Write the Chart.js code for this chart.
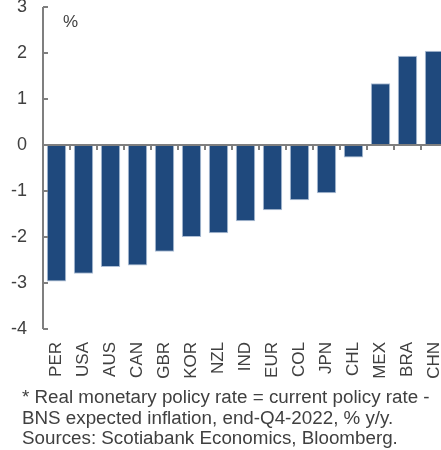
<!DOCTYPE html>
<html>
<head>
<meta charset="utf-8">
<script src="https://cdn.jsdelivr.net/npm/chart.js@4"></script>
<style>
  body { margin: 0; background: #fff; overflow: hidden; width: 441px; height: 450px; }
  #wrap { position: absolute; left: 0; top: 0; width: 448px; height: 390px; }
  #note {
    position: absolute; left: 22px; top: 387px; width: 440px;
    font-family: "Liberation Sans", Arial, sans-serif; font-size: 18.8px;
    line-height: 20.5px; color: #404040; white-space: nowrap;
  }
</style>
</head>
<body>
<div id="wrap"><canvas id="chart" width="448" height="390"></canvas></div>
<div id="note">* Real monetary policy rate = current policy rate -<br>BNS expected inflation, end-Q4-2022, % y/y.<br>Sources: Scotiabank Economics, Bloomberg.</div>
<script>
const countries = ["PER", "USA", "AUS", "CAN", "GBR", "KOR", "NZL", "IND", "EUR", "COL", "JPN", "CHL", "MEX", "BRA", "CHN"];
const realRates = [-2.97, -2.8, -2.65, -2.62, -2.32, -2.0, -1.92, -1.66, -1.42, -1.2, -1.05, -0.27, 1.34, 1.94, 2.05];
const yTicks = [-4, -3, -2, -1, 0, 1, 2, 3];

const axisGray = "#7f7f7f";
const textGray = "#404040";
const font = "Liberation Sans, Arial, sans-serif";

// drop the automatic label padding so the plot area sits like the original
function noPadding(scale) {
  scale.paddingTop = 0;
  scale.paddingBottom = 0;
  scale.paddingLeft = 0;
  scale.paddingRight = 0;
}

// ================== axes drawn like the original ======================
const axisPlugin = {
  id: "axisLines",
  afterDatasetsDraw(chart) {
    const ctx = chart.ctx;
    const x = chart.scales.x;
    const y = chart.scales.y;
    const area = chart.chartArea;
    const zero = y.getPixelForValue(0);
    ctx.save();
    ctx.strokeStyle = axisGray;
    // y axis line and inward ticks
    ctx.lineWidth = 2;
    ctx.beginPath();
    ctx.moveTo(area.left, y.getPixelForValue(yTicks[yTicks.length - 1]));
    ctx.lineTo(area.left, y.getPixelForValue(yTicks[0]));
    ctx.stroke();
    yTicks.forEach((t) => {
      const py = y.getPixelForValue(t);
      ctx.beginPath();
      ctx.moveTo(area.left, py);
      ctx.lineTo(area.left + 5, py);
      ctx.stroke();
    });
    // zero line and category ticks
    ctx.beginPath();
    ctx.moveTo(area.left, zero);
    ctx.lineTo(area.right, zero);
    ctx.stroke();
    for (let i = 0; i < countries.length - 1; i++) {
      const px = (x.getPixelForValue(i) + x.getPixelForValue(i + 1)) / 2;
      ctx.beginPath();
      ctx.moveTo(px, zero);
      ctx.lineTo(px, zero + 5);
      ctx.stroke();
    }
    // unit label
    ctx.fillStyle = textGray;
    ctx.font = "17px " + font;
    ctx.textBaseline = "top";
    ctx.fillText("%", area.left + 20, 14);
    ctx.restore();
  },
};

const chart = new Chart(document.getElementById("chart"), {
  type: "bar",
  data: {
    labels: countries,
    datasets: [
      {
        data: realRates,
        backgroundColor: "#1f497d",
        borderColor: "#aebfd6",
        borderWidth: 1,
        barPercentage: 0.72,
        categoryPercentage: 1,
      },
    ],
  },
  options: {
    responsive: false,
    maintainAspectRatio: false,
    animation: false,
    layout: { padding: { top: 7, right: 0, left: 8, bottom: 0 } },
    plugins: { legend: { display: false }, tooltip: { enabled: false } },
    scales: {
      x: {
        grid: { display: false, drawTicks: false },
        border: { display: false },
        afterFit: (scale) => {
          scale.height = 61;
          noPadding(scale);
        },
        ticks: {
          autoSkip: false,
          maxRotation: 90,
          minRotation: 90,
          padding: 13,
          color: textGray,
          font: { family: font, size: 17 },
        },
      },
      y: {
        min: -4,
        max: 3,
        grid: { display: false, drawTicks: false },
        border: { display: false },
        afterFit: (scale) => {
          scale.width = 35;
          noPadding(scale);
        },
        afterBuildTicks: (scale) => {
          scale.ticks = yTicks.map((v) => ({ value: v }));
        },
        ticks: {
          padding: 16,
          color: textGray,
          font: { family: font, size: 18 },
        },
      },
    },
  },
  plugins: [axisPlugin],
});
</script>
</body>
</html>
